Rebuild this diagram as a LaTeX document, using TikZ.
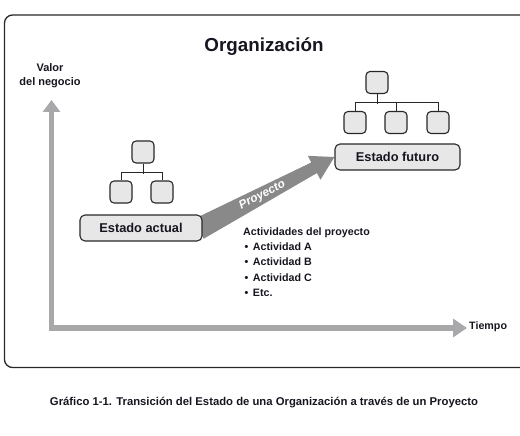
\documentclass[tikz,border=0pt]{standalone}
\usepackage{fontspec}
\setmainfont{Liberation Sans}
\usetikzlibrary{arrows.meta}
\usetikzlibrary{calc}
\usetikzlibrary{backgrounds}
\definecolor{ColBox}{RGB}{231,231,231}
\definecolor{ColLine}{RGB}{40,40,40}
\definecolor{ColAxis}{RGB}{168,168,170}
\definecolor{ColProj}{RGB}{137,137,137}
\definecolor{ColText}{RGB}{22,22,32}
\tikzstyle{BoxOrg}=[draw=ColLine,fill=ColBox,line width=1.1pt,rounded corners=4pt,
minimum size=22pt,inner sep=0pt]
\tikzstyle{BoxState}=[draw=ColLine,fill=ColBox,line width=1.1pt,rounded corners=5pt,
minimum height=26pt,inner sep=0pt,text=ColText,font=\bfseries\fontsize{12.8}{15}\selectfont]
\tikzstyle{EdgeOrg}=[ColLine,line width=0.8pt]
\tikzstyle{AxisArrow}=[ColAxis,line width=5.5pt,line join=miter,
{Triangle[length=12pt,width=17pt]}-{Triangle[length=14pt,width=18pt]}]
\tikzstyle{TextLabel}=[text=ColText,inner sep=0pt,font=\bfseries\fontsize{10.7}{13}\selectfont]

\begin{document}
\begin{tikzpicture}[x=1pt,y=-1pt]
        \useasboundingbox (0,0) rectangle (520,436);
        % marco
        \draw[ColLine,line width=1.3pt,rounded corners=8pt](520,15)-|(4.5,367.5)--(520,367.5);
        \node[TextLabel,anchor=base,font=\bfseries\fontsize{18.8}{22}\selectfont](title)at(264,52){Organización};
        % ejes
        \coordinate(yend)at(51.5,100);
        \coordinate(orig)at(51.5,328);
        \coordinate(xend)at(467,328);
        \draw[AxisArrow](yend)--(orig)--(xend);
        \node[TextLabel,align=center,font=\bfseries\fontsize{11}{14.5}\selectfont](valor)at(50,75.5){Valor\\del negocio};
        \node[TextLabel,anchor=west](tiempo)at(469,327){Tiempo};
        % estados
        \node[BoxState,minimum width=122pt](actual)at(141,228){Estado actual};
        \node[BoxState,minimum width=125pt](futuro)at(397.5,157){Estado futuro};
        % flecha del proyecto
        \coordinate(pS)at($(actual.east)+(-4,1)$);
        \coordinate(pT)at(futuro.west);
        \coordinate(pH)at($(pT)!23pt!(pS)$);
        \begin{scope}[on background layer]
        \fill[ColProj]($(pS)!11pt!90:(pT)$)--($(pH)!6pt!-90:(pS)$)--($(pH)!13.5pt!-90:(pS)$)--(pT)
            --($(pH)!13.5pt!90:(pS)$)--($(pH)!6pt!90:(pS)$)--($(pS)!11pt!-90:(pT)$)--cycle;
        \end{scope}
        \path(pS)--(pT)node[pos=0.47,sloped,inner sep=0pt,text=white,
            font=\bfseries\itshape\fontsize{11.8}{13}\selectfont](proy){Proyecto};
        % organigrama actual
        \node[BoxOrg](la)at(143,152){};
        \node[BoxOrg](lb)at(121,192){};
        \node[BoxOrg](lc)at(162,192){};
        \draw[EdgeOrg](la.south)--++(0,10);
        \draw[EdgeOrg](lb.north)--++(0,-8)-|(lc.north);
        % organigrama futuro
        \node[BoxOrg](ra)at(377,82.5){};
        \node[BoxOrg](rb)at(355,122.5){};
        \node[BoxOrg](rc)at(396,122.5){};
        \node[BoxOrg](rd)at(438,122.5){};
        \draw[EdgeOrg](ra.south)--++(0,10);
        \draw[EdgeOrg](rb.north)--++(0,-9)-|(rd.north);
        \draw[EdgeOrg](rc.north)--++(0,-9);
        % actividades
        \node[TextLabel,anchor=base west](act)at(243,235){Actividades del proyecto};
        \node[TextLabel,anchor=base west](actA)at(244.5,250){•\hspace{4.5pt}Actividad A};
        \node[TextLabel,anchor=base west](actB)at(244.5,265.5){•\hspace{4.5pt}Actividad B};
        \node[TextLabel,anchor=base west](actC)at(244.5,281){•\hspace{4.5pt}Actividad C};
        \node[TextLabel,anchor=base west](actD)at(244.5,296){•\hspace{4.5pt}Etc.};
        % pie
        \node[TextLabel,anchor=base,font=\bfseries\fontsize{11.3}{13}\selectfont](caption)at(264,405)
            {Gráfico 1-1. Transición del Estado de una Organización a través de un Proyecto};
    \end{tikzpicture}
\end{document}
